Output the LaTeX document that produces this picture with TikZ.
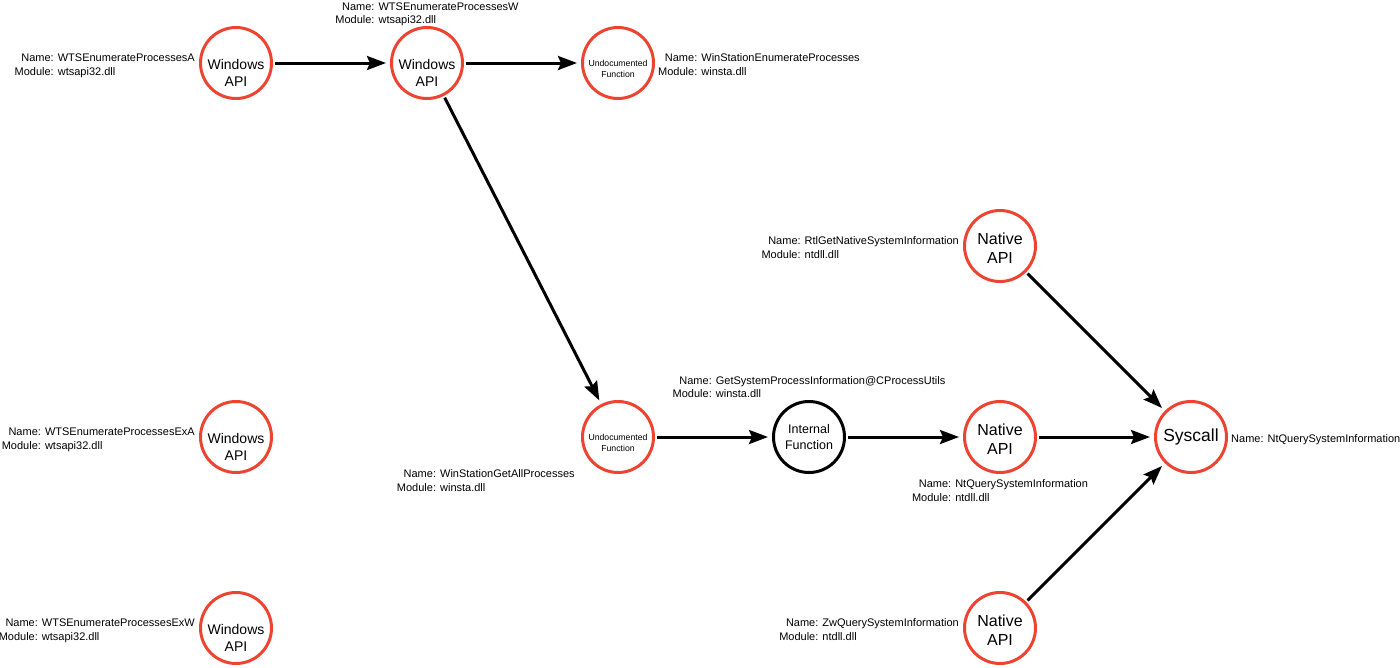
\documentclass[tikz,border=0pt]{standalone}
\usepackage{fontspec}
\setmainfont{Liberation Sans}
\usetikzlibrary{arrows.meta, positioning}
\definecolor{apired}{RGB}{236,68,48}
\newcommand\fninfo[2]{\begin{tabular}{@{}r@{ }l@{}}Name:&#1\\Module:&#2\end{tabular}}

\begin{document}
\begin{tikzpicture}[
    x=1pt, y=1pt,
    node distance=117pt,
    ring/.style={circle, draw=apired, line width=3pt, minimum size=71pt, inner sep=0pt},
    winapi/.style={ring, label={[font=\fontsize{14}{17}\selectfont, align=center, yshift=-10pt]center:Windows\\API}},
    undoc/.style={ring, label={[font=\fontsize{8.7}{10.5}\selectfont, align=center, yshift=-6pt]center:Undocumented\\Function}},
    native/.style={ring, label={[font=\fontsize{16}{19}\selectfont, align=center, yshift=-2pt]center:Native\\API}},
    info/.style={font=\fontsize{11}{13.5}\selectfont, inner sep=0pt, yshift=-3pt},
    arr/.style={-{Stealth[length=19pt, width=14pt, inset=3pt]}, line width=3pt, shorten <=2pt, shorten >=4pt}
  ]
  \useasboundingbox (-236,-604) rectangle (1164,63);
  \node[winapi] (wA) at (0,0) {};
  \node[winapi, right=of wA] (wB) {};
  \node[undoc, right=of wB] (uC) {};
  \node[winapi, below=300pt of wA] (wD) {};
  \node[winapi, below=of wD] (wE) {};
  \node[undoc, below=300pt of uC] (uF) {};
  \node[ring, draw=black, right=of uF, font=\fontsize{12.5}{16}\selectfont, align=center] (iG) {Internal\\Function};
  \node[native, right=of iG] (nI) {};
  \node[native, above=of nI] (nH) {};
  \node[native, below=of nI] (nJ) {};
  \node[ring, right=of nI, font=\fontsize{17.5}{20}\selectfont] (sK) {Syscall};

  \node[info, left=4pt of wA] (lA) {\fninfo{WTSEnumerateProcessesA}{wtsapi32.dll}};
  \node[info, above=1pt of wB] (lB) {\fninfo{WTSEnumerateProcessesW}{wtsapi32.dll}};
  \node[info, right=3pt of uC] (lC) {\fninfo{WinStationEnumerateProcesses}{winsta.dll}};
  \node[info, left=4pt of wD] (lD) {\fninfo{WTSEnumerateProcessesExA}{wtsapi32.dll}};
  \node[info, left=4pt of wE] (lE) {\fninfo{WTSEnumerateProcessesExW}{wtsapi32.dll}};
  \node[info, below left=2pt and 17pt of uF] (lF) {\fninfo{WinStationGetAllProcesses}{winsta.dll}};
  \node[info, above=1pt of iG] (lG) {\fninfo{GetSystemProcessInformation@CProcessUtils}{winsta.dll}};
  \node[info, left=4pt of nH] (lH) {\fninfo{RtlGetNativeSystemInformation}{ntdll.dll}};
  \node[info, below=1pt of nI] (lI) {\fninfo{NtQuerySystemInformation}{ntdll.dll}};
  \node[info, left=4pt of nJ] (lJ) {\fninfo{ZwQuerySystemInformation}{ntdll.dll}};
  \node[info, right=3pt of sK] (lK) {Name: NtQuerySystemInformation};

  \draw[arr] (wA) -- (wB);
  \draw[arr] (wB) -- (uC);
  \draw[arr] (wB) -- (uF);
  \draw[arr] (uF) -- (iG);
  \draw[arr] (iG) -- (nI);
  \draw[arr] (nI) -- (sK);
  \draw[arr] (nH) -- (sK);
  \draw[arr] (nJ) -- (sK);
\end{tikzpicture}
\end{document}
